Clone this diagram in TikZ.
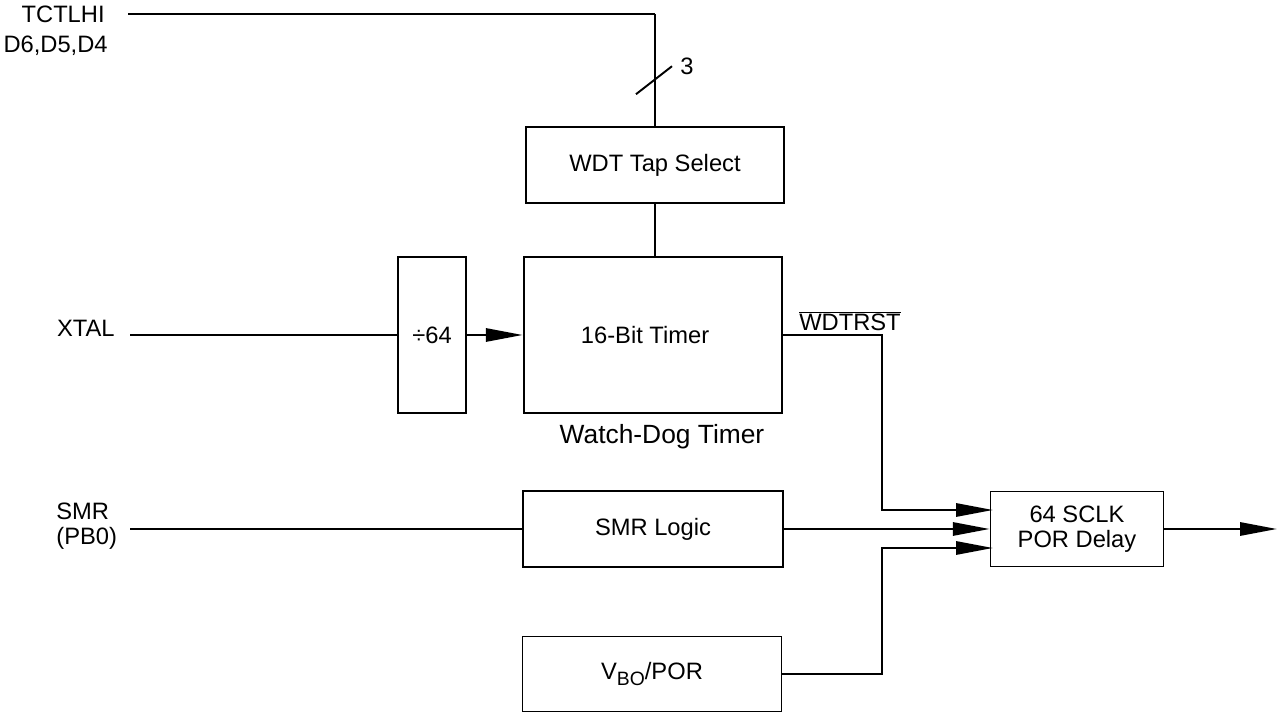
\documentclass[tikz,border=0pt]{standalone}
\usepackage{fontspec}
\setmainfont{Liberation Sans}
\usetikzlibrary{arrows.meta}

\begin{document}
\begin{tikzpicture}[x=0.02cm,y=-0.02cm,inner sep=0pt,
    font=\fontsize{13.5}{14.5}\selectfont,
    blk/.style={draw,line width=0.9pt,minimum width=5.16cm,minimum height=1.52cm},
    bigblk/.style={draw,line width=1.5pt,minimum height=3.12cm},
    sig/.style={line width=1.4pt},
    arr/.style={sig,-{Triangle[length=21pt,width=7.5pt]}}]
    \useasboundingbox (0,0) rectangle (1278,715);
    % blocks
    \node[blk] (tap) at (655,165) {WDT Tap Select};
    \node[bigblk,minimum width=5.16cm] (timer) at (653,335) {\hspace*{-9pt}16-Bit Timer};
    \node[bigblk,minimum width=1.36cm] (div) at (432,335) {÷64};
    \node[blk,minimum width=5.2cm] (smr) at (653,529) {SMR Logic};
    \node[blk,minimum width=5.18cm,minimum height=1.5cm] (vbo) at (652,674)
        {V\raisebox{-0.5ex}{\fontsize{11}{11}\selectfont BO}/POR};
    \node[blk,minimum width=3.46cm,minimum height=1.5cm,align=center] (por) at (1077,529)
        {64 SCLK\\POR Delay};
    % labels
    \node[anchor=base east] (tctlhi) at (105,23) {TCTLHI};
    \node[anchor=base east] (dbits) at (108,53) {D6,D5,D4};
    \node[anchor=base east] (xtallbl) at (115,337) {XTAL};
    \node[anchor=west,align=left] (smrlbl) at (56,526) {SMR\\(PB0)};
    \node (three) at (687,66) {3};
    \node[anchor=base] (wdtrst) at (850,331) {$\overline{\mbox{WDTRST}}$};
    \node[anchor=base,font=\fontsize{15}{16}\selectfont] (wdog) at (662,444) {Watch-Dog Timer};
    % free ends
    \coordinate (tctl) at (128,14);
    \coordinate (xtal) at (130,335);
    \coordinate (smrin) at (130,529);
    \coordinate (jog) at (882,0);
    \coordinate (porA) at (993,510);
    \coordinate (porC) at (993,548);
    \coordinate (out) at (1277,529);
    % connectors
    \draw[sig] (tctl) -- (tctl -| tap.north);
    \draw[line width=0.7pt] (tctl -| tap.north) -- (tap.north);
    \draw[line width=1.1pt] (tap.north) ++(-19,-32) -- ++(36,-28);
    \draw[line width=0.7pt] (tap.south) -- (tap.south |- timer.north);
    \draw[sig] (xtal) -- (div.west);
    \draw[arr] (div.east) -- (timer.west);
    \draw[arr] (timer.east) -- (timer.east -| jog) |- (porA);
    \draw[sig] (smrin) -- (smr.west);
    \draw[arr] (smr.east) -- (smr.east -| por.west);
    \draw[arr] (vbo.east) -- (vbo.east -| jog) |- (porC);
    \draw[arr] (por.east) -- (out);
\end{tikzpicture}
\end{document}
